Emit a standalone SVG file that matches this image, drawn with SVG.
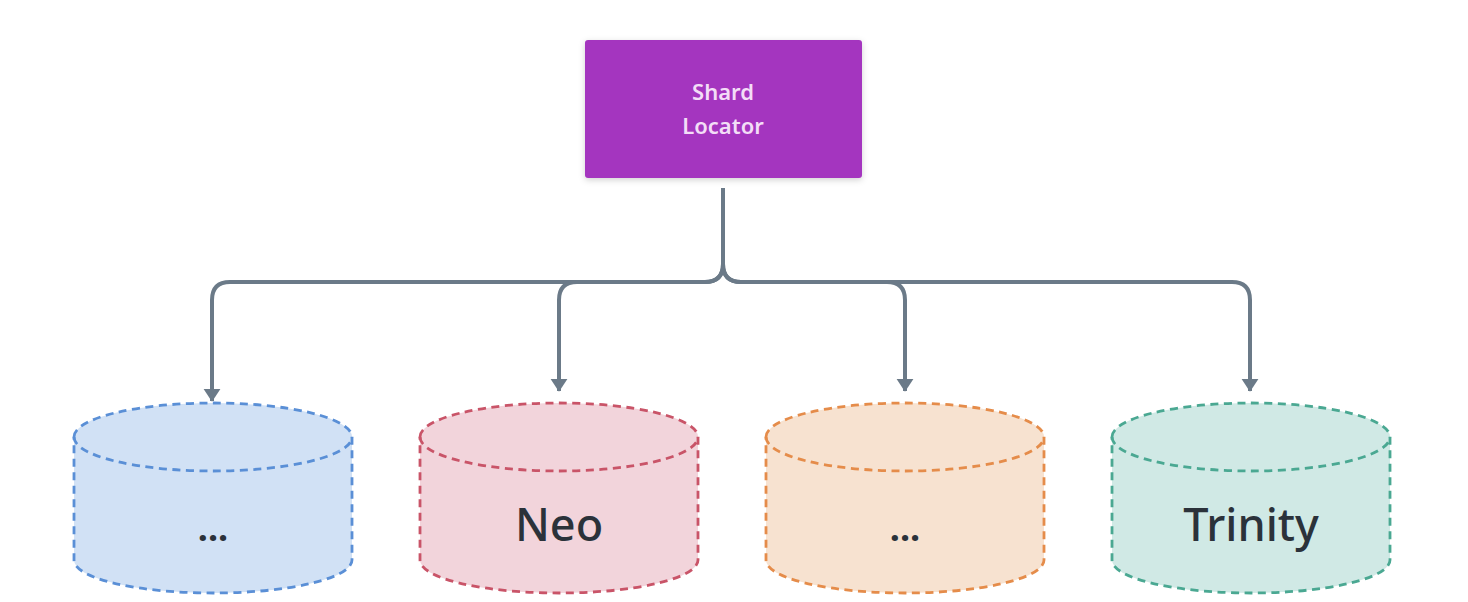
<svg xmlns="http://www.w3.org/2000/svg" width="1468" height="602" viewBox="0 0 1468 602">
<style>
.conn{fill:none;stroke:#6b7a88;stroke-width:4;stroke-linejoin:round}
.cyl{stroke-width:2.8;stroke-dasharray:8 5.5}
.lbl{font-family:"Noto Sans","Liberation Sans",sans-serif;fill:#2b323a;text-anchor:middle}
.box{font-family:"Noto Sans","Liberation Sans",sans-serif;fill:#f3ddf7;text-anchor:middle;font-size:22px;font-weight:600}
</style>
<defs>
<marker id="ah" markerWidth="5" markerHeight="5" refX="3" refY="2.2" orient="auto" markerUnits="strokeWidth">
<path d="M0,0.1 L3.2,2.2 L0,4.3 Z" fill="#6b7a88"/>
</marker>
<filter id="sh" x="-10%" y="-10%" width="120%" height="130%">
<feDropShadow dx="0" dy="2" stdDeviation="3" flood-color="#000" flood-opacity="0.18"/>
</filter>
</defs>
<rect width="1468" height="602" fill="#ffffff"/>
<g id="connectors">
<path class="conn" marker-end="url(#ah)" d="M723,188 V264 Q723,282 705,282 H230 Q212,282 212,300 V401"/>
<path class="conn" marker-end="url(#ah)" d="M723,188 V264 Q723,282 705,282 H577 Q559,282 559,300 V391"/>
<path class="conn" marker-end="url(#ah)" d="M723,188 V264 Q723,282 741,282 H887 Q905,282 905,300 V391"/>
<path class="conn" marker-end="url(#ah)" d="M723,188 V264 Q723,282 741,282 H1232 Q1250,282 1250,300 V391"/>
</g>
<g id="shard-locator">
<rect x="585" y="40" width="277" height="138" rx="3" fill="#a436bf" filter="url(#sh)"/>
<text class="box" x="723" y="100">Shard</text>
<text class="box" x="723" y="134">Locator</text>
</g>
<g id="shard-1">
<path class="cyl" fill="#d1e1f5" stroke="#5a8fd6" d="M74,437 A139,34 0 0 1 352,437 V560 A139,33 0 0 1 74,560 Z"/>
<path class="cyl" fill="none" stroke="#5a8fd6" d="M74,437 A139,34 0 0 0 352,437"/>
<text class="lbl" x="213" y="541" font-size="36" font-weight="bold">...</text>
</g>
<g id="neo">
<path class="cyl" fill="#f2d4db" stroke="#c95468" d="M420,437 A139,34 0 0 1 698,437 V560 A139,33 0 0 1 420,560 Z"/>
<path class="cyl" fill="none" stroke="#c95468" d="M420,437 A139,34 0 0 0 698,437"/>
<text class="lbl" x="559" y="541" font-size="45" font-weight="500">Neo</text>
</g>
<g id="shard-3">
<path class="cyl" fill="#f7e2d0" stroke="#e58c4a" d="M766,437 A139,34 0 0 1 1044,437 V560 A139,33 0 0 1 766,560 Z"/>
<path class="cyl" fill="none" stroke="#e58c4a" d="M766,437 A139,34 0 0 0 1044,437"/>
<text class="lbl" x="905" y="541" font-size="36" font-weight="bold">...</text>
</g>
<g id="trinity">
<path class="cyl" fill="#d0e9e5" stroke="#4aa892" d="M1112,437 A139,34 0 0 1 1390,437 V560 A139,33 0 0 1 1112,560 Z"/>
<path class="cyl" fill="none" stroke="#4aa892" d="M1112,437 A139,34 0 0 0 1390,437"/>
<text class="lbl" x="1251" y="541" font-size="45" font-weight="500">Trinity</text>
</g>
</svg>
